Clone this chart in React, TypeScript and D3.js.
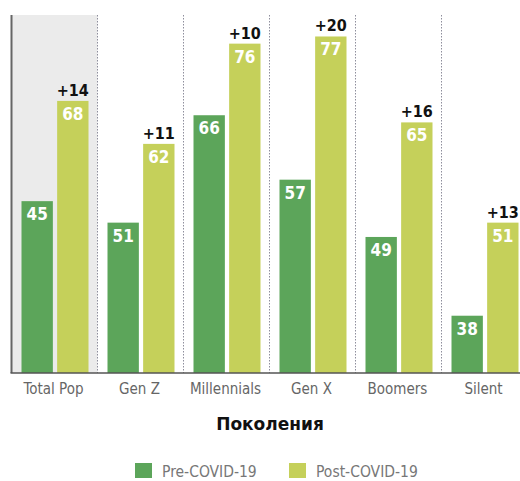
import React from "react";
import * as d3 from "d3";

const categories = ["Total Pop", "Gen Z", "Millennials", "Gen X", "Boomers", "Silent"];
// bar heights as drawn (value scale)
const preValues = [54, 51, 66, 57, 49, 38];
const postValues = [68, 62, 76, 77, 65, 51];
// labels printed inside the pre bars
const preLabels = ["45", "51", "66", "57", "49", "38"];
const seriesNames = ["Pre-COVID-19", "Post-COVID-19"];
const axisTitle = "Поколения";

const W = 520;
const H = 481;
const PRE = "#5ca55a";
const POST = "#c5d05a";
const COND = "'DejaVu Sans Condensed', 'DejaVu Sans', sans-serif";

export default function App() {
  const top = 15;
  const base = 373;
  const left = 11.5;
  const x = d3.scaleBand<string>().domain(categories).range([left, left + 86 * 6]).paddingInner(0).paddingOuter(0);
  const xi = d3.scaleBand<string>().domain(["pre", "post"]).range([10, 77]).paddingInner(0.12).paddingOuter(0);
  const y = d3.scaleLinear().domain([30, 80]).range([base, top]);
  const step = x.step();

  return (
    <svg width={W} height={H} style={{ position: "absolute", left: 0, top: 0, background: "#fff" }}>
      <rect x={left} y={top} width={step} height={base - top} fill="#ebebeb" />
      {categories.slice(1).map((c) => (
        <line key={"d" + c} x1={x(c)!} x2={x(c)!} y1={top} y2={base} stroke="#8e8e9c" strokeWidth={1} strokeDasharray="1.5,1.5" />
      ))}
      {categories.map((c, i) => {
        const gx = x(c)!;
        const pv = preValues[i];
        const qv = postValues[i];
        const bw = xi.bandwidth();
        const px = gx + xi("pre")!;
        const qx = gx + xi("post")!;
        return (
          <g key={c}>
            <rect x={px} y={y(pv)} width={bw} height={base - y(pv)} fill={PRE} />
            <rect x={qx} y={y(qv)} width={bw} height={base - y(qv)} fill={POST} />
            <text x={px + bw / 2} y={y(pv) + 19} textAnchor="middle" fill="#fff" fontFamily={COND} fontWeight="bold" fontSize={17} style={{ fontStretch: "condensed" }}>
              {preLabels[i]}
            </text>
            <text x={qx + bw / 2} y={y(qv) + 19} textAnchor="middle" fill="#fff" fontFamily={COND} fontWeight="bold" fontSize={17} style={{ fontStretch: "condensed" }}>
              {qv}
            </text>
            <text x={qx + bw / 2} y={y(qv) - 5} textAnchor="middle" fill="#111" fontFamily={COND} fontWeight="bold" fontSize={16} style={{ fontStretch: "condensed" }}>
              {"+" + (qv - pv)}
            </text>
            <text x={gx + step / 2 - 1} y={394} textAnchor="middle" fill="#666" fontFamily={COND} fontSize={15} style={{ fontStretch: "condensed" }}>
              {c}
            </text>
          </g>
        );
      })}
      <line x1={left} x2={left} y1={top} y2={base} stroke="#666" strokeWidth={2} />
      <line x1={left - 1} x2={W} y1={base} y2={base} stroke="#555" strokeWidth={1.5} />
      <text x={270} y={430} textAnchor="middle" fill="#111" fontFamily="'DejaVu Sans', sans-serif" fontWeight="bold" fontSize={17}>
        {axisTitle}
      </text>
      {seriesNames.map((s, i) => {
        const lx = i === 0 ? 135 : 289;
        return (
          <g key={s}>
            <rect x={lx} y={463} width={17} height={15} fill={i === 0 ? PRE : POST} />
            <text x={lx + 27} y={477} fill="#777" fontFamily={COND} fontSize={15.5} style={{ fontStretch: "condensed" }}>
              {s}
            </text>
          </g>
        );
      })}
    </svg>
  );
}
